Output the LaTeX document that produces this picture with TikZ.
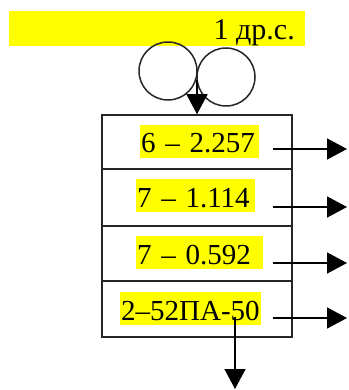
\documentclass[tikz,border=0pt]{standalone}
\usepackage{fontspec}
\setmainfont{Liberation Serif}
\usetikzlibrary{arrows.meta}
\definecolor{hlyellow}{RGB}{255,255,0}
\tikzset{
  rowbox/.style={draw=black!85, line width=1.5pt, minimum width=190pt, inner sep=0pt},
  hl/.style={fill=hlyellow, inner ysep=0pt, inner xsep=1pt, text height=28pt, text depth=5pt, align=left, anchor=base west, font=\fontsize{29}{34}\selectfont},
  roll/.style={draw=black!85, line width=1.5pt, circle, minimum size=58pt, inner sep=0pt},
  arr/.style={line width=1.5pt, -{Triangle[length=20pt,width=21pt]}}
}
\begin{document}
\begin{tikzpicture}[x=1pt,y=-1pt]
\useasboundingbox (0,0) rectangle (348,390);
% title bar
\node[fill=hlyellow, minimum width=296pt, minimum height=35pt, inner sep=0pt] (bar) at (157,28.5) {};
\node[anchor=base east, inner sep=0pt, font=\fontsize{30}{34}\selectfont] (title) at (295,40) {1 др.с.};
% rolls
\node[roll] (c1) at (168,71) {};
\node[roll] (c2) at (226,77) {};
% box rows
\node[rowbox, minimum height=54pt] (r1) at (197,142) {};
\node[rowbox, minimum height=57pt] (r2) at (197,197.5) {};
\node[rowbox, minimum height=55pt] (r3) at (197,253.5) {};
\node[rowbox, minimum height=56pt] (r4) at (197,309) {};
% labels
\node[hl, text width=117pt] (t1) at (140,153) {6 – 2.257};
\node[hl, text width=117pt] (t2) at (136,207) {7 – 1.114};
\node[hl, text width=125pt] (t3) at (136,264) {7 – 0.592};
\node[hl, text width=139pt] (t4) at (120,320) {\mbox{2–52ПА-50}};
% connectors
\coordinate (in) at (197,80);
\draw[arr] (in) -- (r1.north);
\coordinate (o1s) at (273,149); \coordinate (o1e) at (347,149);
\coordinate (o2s) at (273,207); \coordinate (o2e) at (347,207);
\coordinate (o3s) at (273,263); \coordinate (o3e) at (347,263);
\coordinate (o4s) at (273,318); \coordinate (o4e) at (347,318);
\draw[arr] (o1s) -- (o1e);
\draw[arr] (o2s) -- (o2e);
\draw[arr] (o3s) -- (o3e);
\draw[arr] (o4s) -- (o4e);
\coordinate (ds) at (235,317); \coordinate (de) at (235,389);
\draw[arr] (ds) -- (de);
\end{tikzpicture}
\end{document}
